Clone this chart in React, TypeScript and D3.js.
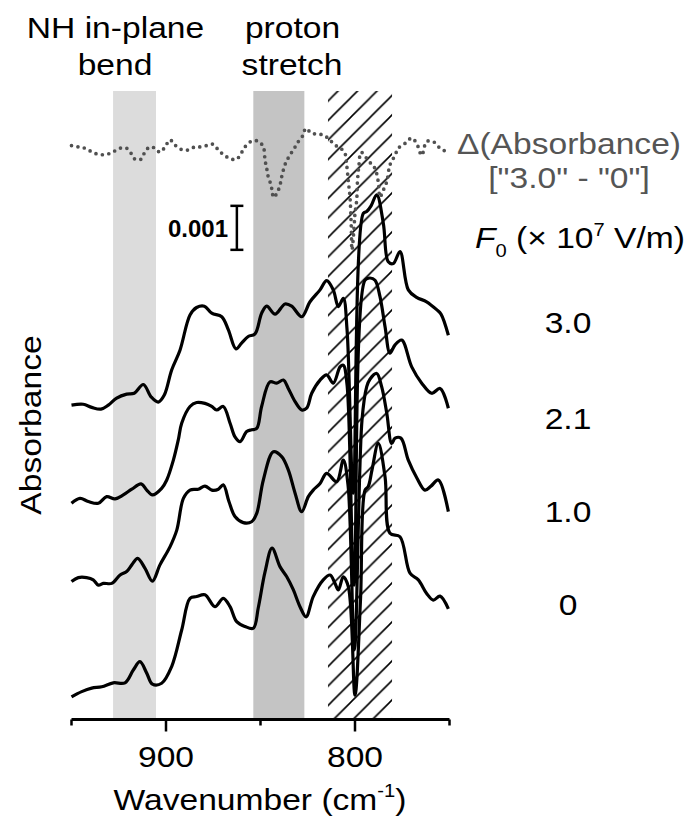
import React from 'react';
import * as d3 from 'd3';

// ---------- data (wavenumber cm^-1, absorbance in units of 0.001, stacked display) ----------
const trace30: [number, number][] = [
  [950, 7.11], [943.8, 7.13], [939.3, 7.06], [934.4, 7.02], [930.5, 7.11], [926.1, 7.27], [920.8, 7.36],
  [916.8, 7.38], [912.0, 7.58], [907.9, 7.30], [904.1, 7.18], [900.9, 7.34], [897.0, 7.91], [892.6, 8.36],
  [887.3, 9.16], [883.8, 9.33], [879.7, 9.36], [875.8, 9.20], [870.5, 9.12], [867.0, 8.82], [863.0, 8.39],
  [860.0, 8.52], [856.5, 8.67], [852.9, 8.73], [849.4, 9.20], [846.7, 9.36], [842.3, 9.18], [837.0, 9.41],
  [833.5, 9.36], [828.2, 9.12], [823.8, 9.46], [818.5, 9.73], [815.0, 9.94], [811.5, 9.73], [808.8, 9.35],
  [806.2, 9.54], [804.2, 8.82], [800.9, 5.11], [795.6, 11.47], [793.8, 11.51], [791.5, 11.64], [788.5, 11.89],
  [785.0, 11.24], [782.4, 10.37], [779.7, 10.33], [776.2, 10.60], [771.8, 9.73], [767.4, 9.56], [762.1, 9.46],
  [756.8, 9.28], [754.5, 9.18], [750.6, 8.70],
];
const trace21: [number, number][] = [
  [950, 4.88], [945.5, 4.99], [941.1, 4.92], [935.8, 4.88], [931.4, 5.03], [927.0, 4.98], [922.6, 5.07],
  [918.1, 5.20], [913.2, 5.32], [910.2, 5.18], [907.2, 5.07], [902.3, 5.22], [899.6, 5.41], [896.1, 5.86],
  [893.5, 6.32], [891.7, 6.70], [887.3, 7.08], [883.8, 7.17], [879.4, 7.15], [875.8, 7.08], [873.2, 7.00],
  [869.7, 7.08], [866.1, 6.70], [863.5, 6.39], [860.8, 6.28], [857.3, 6.51], [854.7, 6.55], [852.0, 6.58],
  [849.4, 7.08], [845.0, 7.64], [841.4, 7.61], [837.9, 7.68], [835.3, 7.49], [831.7, 7.19], [828.2, 7.00],
  [825.6, 7.04], [822.9, 7.38], [818.5, 7.68], [815.0, 7.80], [811.5, 7.61], [807.9, 7.98], [806.2, 8.02],
  [804.2, 7.57], [800.5, 3.02], [794.7, 9.95], [792.1, 10.0], [789.4, 9.95], [786.8, 9.58], [784.1, 8.89],
  [781.5, 8.29], [778.8, 8.48], [775.3, 8.59], [770.0, 7.98], [764.7, 7.61], [759.4, 7.38], [755.0, 7.49],
  [750.6, 7.04],
];
const trace10: [number, number][] = [
  [950, 3.10], [946.4, 3.19], [942.0, 3.19], [938.5, 3.14], [935.8, 3.02], [933.2, 3.06], [928.7, 3.06],
  [924.3, 3.25], [920.8, 3.33], [918.1, 3.48], [915.0, 3.63], [911.1, 3.40], [907.2, 3.11], [903.2, 3.48],
  [897.9, 3.89], [894.3, 4.27], [890.8, 4.99], [887.3, 5.18], [882.9, 5.20], [879.4, 5.27], [875.8, 5.18],
  [872.3, 5.20], [869.7, 5.30], [866.7, 4.92], [863.5, 4.58], [859.1, 4.44], [854.7, 4.46], [852.0, 4.65],
  [848.5, 5.41], [843.2, 6.05], [838.8, 5.94], [835.3, 5.64], [831.7, 5.11], [828.2, 4.69], [824.7, 5.03],
  [822.1, 5.18], [818.5, 5.33], [815.0, 5.56], [809.7, 5.37], [806.2, 5.86], [803.7, 5.30], [800.3, 1.55],
  [796.3, 6.77], [793.8, 7.53], [792.1, 7.70], [788.5, 7.83], [785.9, 7.53], [783.2, 6.93], [780.6, 6.24],
  [778.8, 6.36], [775.7, 6.36], [771.8, 5.86], [767.2, 5.45], [763.0, 5.18], [759.8, 5.27], [755.9, 5.41],
  [750.6, 4.69],
];
const trace00: [number, number][] = [
  [950, 0.48], [944.6, 0.60], [939.3, 0.68], [934.0, 0.71], [927.9, 0.80], [921.7, 0.80], [917.3, 1.09],
  [913.8, 1.28], [910.2, 1.02], [907.2, 0.77], [902.3, 0.79], [897.0, 1.17], [891.7, 2.00], [887.3, 2.72],
  [883.8, 2.76], [879.4, 2.80], [874.1, 2.53], [869.7, 2.72], [866.1, 2.53], [862.6, 2.19], [858.2, 2.08],
  [853.8, 2.04], [851.2, 2.50], [847.6, 3.32], [843.9, 3.86], [839.7, 3.44], [836.1, 3.21], [832.6, 2.91],
  [829.1, 2.53], [825.9, 2.30], [822.1, 2.76], [816.8, 3.14], [813.2, 3.25], [810.6, 3.06], [808.8, 2.91],
  [806.2, 3.21], [803.5, 2.98], [800.0, 0.52], [797.1, 2.68], [794.7, 5.18], [793.0, 5.26], [791.0, 5.64],
  [787.7, 6.24], [784.1, 5.48], [781.5, 4.20], [776.2, 4.12], [770.9, 3.29], [766.5, 3.14], [762.1, 2.83],
  [758.6, 2.68], [755.0, 2.77], [750.6, 2.48],
];
// Difference spectrum "3.0" - "0" (units of 0.001), drawn above the traces
const deltaCurve: [number, number][] = [
  [950, 0.01], [946.4, -0.02], [942.9, -0.05], [939.3, -0.13], [935.8, -0.19], [931.4, -0.19], [927.9, -0.13],
  [924.3, -0.05], [920.8, -0.05], [918.1, -0.19], [916.4, -0.30], [913.2, -0.30], [911.1, -0.13], [908.5, -0.02],
  [905.8, -0.05], [903.2, -0.14], [900.5, -0.02], [897.9, 0.14], [895.2, 0.02], [891.7, -0.08], [888.2, -0.09],
  [884.7, -0.02], [881.1, -0.02], [877.6, 0.02], [875.0, 0.04], [872.3, -0.09], [868.8, -0.22], [865.2, -0.30],
  [862.6, -0.30], [860.3, -0.17], [858.2, -0.02], [854.7, 0.11], [851.2, 0.11], [848.5, -0.02], [847.6, -0.32],
  [846.7, -0.51], [845.9, -0.70], [844.4, -0.89], [843.8, -1.04], [843.1, -1.17], [841.4, -1.08], [839.7, -0.89],
  [838.8, -0.70], [837.0, -0.42], [835.3, -0.27], [832.1, -0.05], [830.0, 0.10], [827.4, 0.25], [826.1, 0.40],
  [822.9, 0.29], [819.4, 0.27], [816.8, 0.25], [813.8, 0.16], [810.6, 0.02], [807.9, -0.04], [805.3, -0.17],
  [804.4, -0.43], [803.5, -0.81], [802.6, -1.19], [802.0, -1.80], [801.6, -2.36], [800.5, -1.86], [800.0, -1.53],
  [799.1, -1.23], [798.7, -0.81], [797.9, -0.43], [796.8, -0.14], [793.8, -0.28], [791.0, -0.43], [789.4, -0.51],
  [787.7, -0.81], [786.8, -1.16], [785.2, -1.02], [783.2, -0.81], [781.5, -0.43], [778.8, -0.21], [777.1, -0.05],
  [773.5, 0.06], [770.0, 0.18], [767.4, 0.06], [764.7, -0.21], [762.1, 0.10], [758.6, 0.10], [755.0, -0.05],
  [751.5, -0.13],
];
const DELTA_OFFSET = 13.0;

const traces = [trace30, trace21, trace10, trace00];
const fieldLabels = ['3.0', '2.1', '1.0', '0'];
const fieldLabelLevels = [8.75, 6.57, 4.45, 2.34];

// shaded regions (wavenumber ranges)
const bendBand: [number, number] = [928, 905.3];
const protonBand: [number, number] = [853.8, 826.8];
const hatchBand: [number, number] = [814.3, 780.4];

const majorTicks = [900, 800];
const minorTicks = [950, 850, 750];
const scaleBar: [number, number, number] = [862.5, 10.64, 11.64]; // x, y0, y1

const FONT = "'Liberation Sans', Arial, Helvetica, sans-serif";
const SX = 1.12;

function Label(props: {
  x: number; y: number; children: React.ReactNode; size?: number; fill?: string;
  anchor?: string; weight?: string; sx?: number; rotate?: number;
}) {
  const { x, y, children, size = 30, fill = '#000', anchor = 'middle', weight = 'normal', sx = SX, rotate = 0 } = props;
  return (
    <text
      transform={`translate(${x},${y}) rotate(${rotate}) scale(${sx},1)`}
      textAnchor={anchor as any}
      fontSize={size}
      fill={fill}
      fontWeight={weight}
      fontFamily={FONT}
    >
      {children}
    </text>
  );
}

export default function App() {
  const x = d3.scaleLinear().domain([950, 750]).range([71.5, 449.5]);
  const y = d3.scaleLinear().domain([0, 14.25]).range([718, 91]);
  const AXIS_Y = 719.5;
  const top = y(14.25);

  const line = d3
    .line<[number, number]>()
    .x((d) => x(d[0]))
    .y((d) => y(d[1]))
    .curve(d3.curveCatmullRom.alpha(0.5));
  const dline = d3
    .line<[number, number]>()
    .x((d) => x(d[0]))
    .y((d) => y(d[1] + DELTA_OFFSET))
    .curve(d3.curveCatmullRom.alpha(0.5));

  const band = (b: [number, number]) => ({ x: x(b[0]), w: x(b[1]) - x(b[0]) });
  const bb = band(bendBand);
  const pb = band(protonBand);
  const hb = band(hatchBand);
  const s = 19.5;

  return (
    <svg width={685} height={817} style={{ position: 'absolute', left: 0, top: 0, background: '#fff' }}>
      <defs>
        <pattern id="hatch" patternUnits="userSpaceOnUse" width={s} height={s}>
          <path
            d={`M0,${s} L${s},0 M${-s / 2},${s / 2} L${s / 2},${-s / 2} M${s / 2},${s * 1.5} L${s * 1.5},${s / 2}`}
            stroke="#000"
            strokeWidth={1.6}
          />
        </pattern>
      </defs>
      <rect x={0} y={0} width={685} height={817} fill="#fff" />

      {/* shaded regions */}
      <rect x={bb.x} y={top} width={bb.w} height={AXIS_Y - top} fill="#dcdcdc" />
      <rect x={pb.x} y={top} width={pb.w} height={AXIS_Y - top} fill="#c4c4c4" />
      <rect x={hb.x} y={top} width={hb.w} height={AXIS_Y - top} fill="url(#hatch)" />

      {/* spectra */}
      {traces.map((t, i) => (
        <path key={i} d={line(t) || ''} fill="none" stroke="#000" strokeWidth={3.2} strokeLinejoin="round" />
      ))}

      {/* difference spectrum */}
      <path
        d={dline(deltaCurve) || ''}
        fill="none"
        stroke="#505050"
        strokeWidth={3.7}
        strokeDasharray="0 6.5"
        strokeLinecap="round"
      />

      {/* x axis */}
      <line x1={x(950)} x2={x(750)} y1={AXIS_Y} y2={AXIS_Y} stroke="#000" strokeWidth={3} />
      {majorTicks.map((t) => (
        <g key={t}>
          <line x1={x(t)} x2={x(t)} y1={AXIS_Y} y2={AXIS_Y + 12} stroke="#000" strokeWidth={2.5} />
          <Label x={x(t)} y={767}>{t}</Label>
        </g>
      ))}
      {minorTicks.map((t) => (
        <line key={t} x1={x(t)} x2={x(t)} y1={AXIS_Y} y2={AXIS_Y + 6} stroke="#000" strokeWidth={2.5} />
      ))}
      <Label x={260} y={810}>
        Wavenumber (cm<tspan fontSize={18} dy={-13}>-1</tspan><tspan dy={13}>)</tspan>
      </Label>

      {/* y label */}
      <Label x={41} y={425} rotate={-90}>Absorbance</Label>

      {/* band titles */}
      <Label x={115.5} y={38}>NH in-plane</Label>
      <Label x={115} y={75}>bend</Label>
      <Label x={292.5} y={38}>proton</Label>
      <Label x={292} y={75}>stretch</Label>

      {/* scale bar */}
      <line x1={x(scaleBar[0])} x2={x(scaleBar[0])} y1={y(scaleBar[1])} y2={y(scaleBar[2])} stroke="#000" strokeWidth={2.5} />
      <line x1={x(scaleBar[0]) - 6.5} x2={x(scaleBar[0]) + 6.5} y1={y(scaleBar[1])} y2={y(scaleBar[1])} stroke="#000" strokeWidth={2.5} />
      <line x1={x(scaleBar[0]) - 6.5} x2={x(scaleBar[0]) + 6.5} y1={y(scaleBar[2])} y2={y(scaleBar[2])} stroke="#000" strokeWidth={2.5} />
      <Label x={228} y={237} size={24} weight="bold" anchor="end" sx={1}>0.001</Label>

      {/* right side labels */}
      <Label x={569} y={153.5} fill="#555">Δ(Absorbance)</Label>
      <Label x={569} y={188} fill="#555">{'["3.0" - "0"]'}</Label>
      <Label x={580} y={248}>
        <tspan fontStyle="italic">F</tspan>
        <tspan fontSize={18} dy={9}>0</tspan>
        <tspan dy={-9}> (× 10</tspan>
        <tspan fontSize={18} dy={-12}>7</tspan>
        <tspan dy={12}> V/m)</tspan>
      </Label>
      {fieldLabels.map((l, i) => (
        <Label key={l} x={568} y={y(fieldLabelLevels[i])}>{l}</Label>
      ))}
    </svg>
  );
}
